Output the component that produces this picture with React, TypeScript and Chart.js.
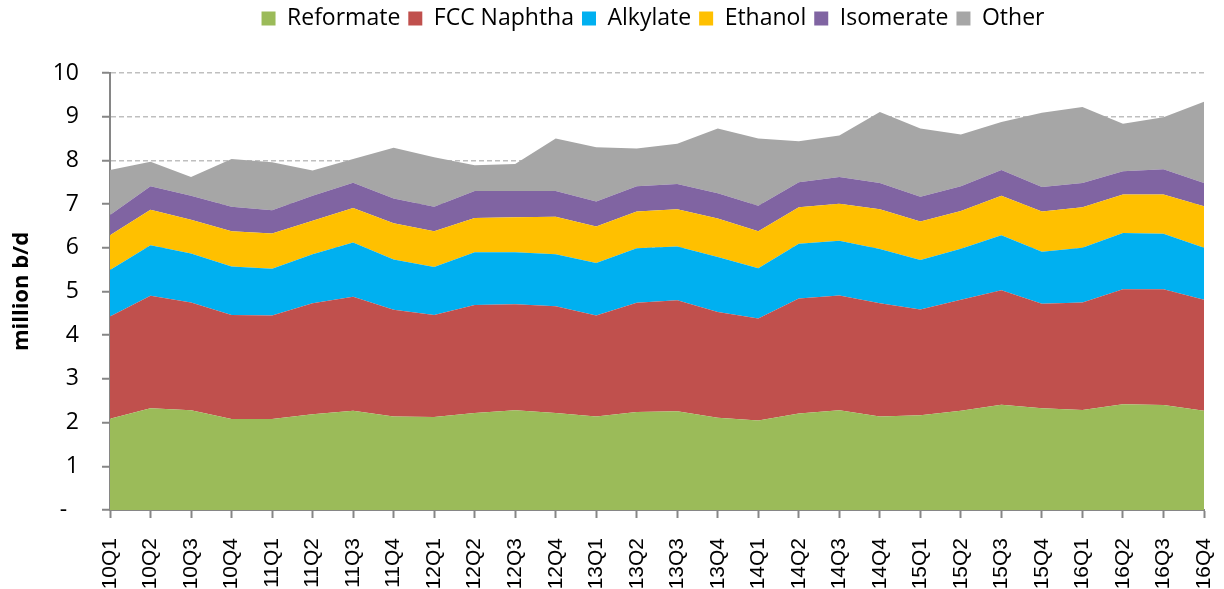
import React, { useEffect, useRef } from "react";
import { Chart, registerables } from "chart.js";

Chart.register(...registerables);

const categories = [
  "10Q1", "10Q2", "10Q3", "10Q4",
  "11Q1", "11Q2", "11Q3", "11Q4",
  "12Q1", "12Q2", "12Q3", "12Q4",
  "13Q1", "13Q2", "13Q3", "13Q4",
  "14Q1", "14Q2", "14Q3", "14Q4",
  "15Q1", "15Q2", "15Q3", "15Q4",
  "16Q1", "16Q2", "16Q3", "16Q4",
];

const reformate = [2.09, 2.33, 2.28, 2.08, 2.08, 2.19, 2.27, 2.14, 2.13, 2.22, 2.28, 2.22, 2.14, 2.24, 2.26, 2.11, 2.05, 2.21, 2.28, 2.14, 2.17, 2.27, 2.41, 2.33, 2.29, 2.42, 2.40, 2.27];
const fccNaphtha = [2.34, 2.57, 2.47, 2.38, 2.37, 2.54, 2.61, 2.44, 2.33, 2.47, 2.43, 2.44, 2.31, 2.50, 2.54, 2.42, 2.33, 2.63, 2.63, 2.59, 2.42, 2.54, 2.62, 2.39, 2.46, 2.63, 2.65, 2.54];
const alkylate = [1.06, 1.16, 1.12, 1.11, 1.07, 1.12, 1.24, 1.15, 1.10, 1.21, 1.19, 1.19, 1.20, 1.25, 1.23, 1.26, 1.15, 1.25, 1.25, 1.24, 1.13, 1.17, 1.26, 1.19, 1.25, 1.29, 1.27, 1.19];
const ethanol = [0.80, 0.81, 0.77, 0.81, 0.81, 0.77, 0.79, 0.83, 0.82, 0.78, 0.80, 0.86, 0.84, 0.84, 0.85, 0.88, 0.85, 0.84, 0.85, 0.91, 0.88, 0.86, 0.90, 0.92, 0.93, 0.88, 0.90, 0.95];
const isomerate = [0.46, 0.54, 0.55, 0.56, 0.53, 0.57, 0.58, 0.57, 0.56, 0.62, 0.60, 0.59, 0.57, 0.58, 0.58, 0.58, 0.58, 0.57, 0.61, 0.60, 0.57, 0.57, 0.59, 0.56, 0.55, 0.53, 0.58, 0.53];
const other = [1.03, 0.56, 0.43, 1.09, 1.10, 0.58, 0.54, 1.16, 1.13, 0.59, 0.62, 1.20, 1.24, 0.86, 0.92, 1.48, 1.54, 0.94, 0.95, 1.63, 1.56, 1.18, 1.10, 1.70, 1.74, 1.09, 1.19, 1.86];

const seriesNames = ["Reformate", "FCC Naphtha", "Alkylate", "Ethanol", "Isomerate", "Other"];
const seriesValues = [reformate, fccNaphtha, alkylate, ethanol, isomerate, other];
const seriesColors = ["#9BBB59", "#C0504D", "#00B0F0", "#FFC000", "#8064A2", "#A6A6A6"];

const yTicks = [0, 1, 2, 3, 4, 5, 6, 7, 8, 9, 10];
const yTitle = "million b/d";

const legendTweak = {
  id: "legendTweak",
  beforeLayout(chart: any) {
    const lg = chart.legend;
    if (lg && !lg.__patched) {
      const fit = lg.fit;
      lg.fit = function () {
        fit.call(this);
        this.height = 73;
      };
      lg.__patched = true;
    }
  },
  afterLayout(chart: any) {
    const lg = chart.legend;
    if (lg) {
      lg.left += 102;
      lg.top -= 1;
    }
  },
};

export default function App() {
  const ref = useRef<HTMLCanvasElement | null>(null);

  useEffect(() => {
    if (!ref.current) return;
    const axisColor = "#868686";
    const chart = new Chart(ref.current, {
      type: "line",
      data: {
        labels: categories,
        datasets: seriesNames.map((name, i) => ({
          label: name,
          data: seriesValues[i],
          backgroundColor: seriesColors[i],
          borderColor: seriesColors[i],
          borderWidth: 0,
          pointRadius: 0,
          pointHoverRadius: 0,
          fill: i === 0 ? "origin" : "-1",
          tension: 0,
        })),
      },
      options: {
        responsive: false,
        animation: false,
        layout: { padding: { left: 0, right: 20, top: 0, bottom: 0 } },
        plugins: {
          tooltip: { enabled: false },
          legend: {
            position: "top",
            labels: {
              boxWidth: 14,
              boxHeight: 14,
              padding: 8,
              color: "#000",
              font: { family: "'Open Sans'", size: 23 },
            },
          },
        },
        scales: {
          x: {
            type: "category",
            offset: false,
            afterFit(scale: any) {
              scale.height = 79;
              scale.paddingLeft = 0;
              scale.paddingRight = 0;
            },
            border: { display: true, color: axisColor, width: 2 },
            grid: {
              display: true,
              drawOnChartArea: false,
              drawTicks: true,
              tickLength: 8,
              tickColor: axisColor,
              tickWidth: 2,
            },
            ticks: {
              autoSkip: false,
              minRotation: 90,
              maxRotation: 90,
              padding: 20,
              color: "#000",
              font: { family: "'Liberation Sans'", size: 21 },
            },
          },
          y: {
            stacked: true,
            min: 0,
            max: 10,
            afterFit(scale: any) {
              scale.width = 110;
            },
            afterBuildTicks(scale: any) {
              scale.ticks = yTicks.map((v) => ({ value: v }));
            },
            border: { display: true, color: axisColor, width: 2, dash: [5, 3] },
            grid: {
              display: true,
              drawOnChartArea: true,
              color: "#BFBFBF",
              lineWidth: 1.5,
              tickLength: 8,
              tickColor: axisColor,
              tickWidth: 2,
              tickBorderDash: [],
            },
            ticks: {
              padding: 23,
              color: "#000",
              font: { family: "'Open Sans'", size: 23 },
              callback: (v: any) => (Number(v) === 0 ? "-  " : String(v)),
            },
            title: {
              display: true,
              text: yTitle,
              color: "#000",
              padding: { top: 9, bottom: 0 },
              font: { family: "'Open Sans'", size: 22, weight: "bold" },
            },
          },
        },
      } as any,
      plugins: [legendTweak],
    });
    return () => chart.destroy();
  }, []);

  return (
    <div style={{ position: "absolute", left: 0, top: 0, width: 1224, height: 589, background: "#fff" }}>
      <canvas ref={ref} width={1224} height={589} />
    </div>
  );
}
